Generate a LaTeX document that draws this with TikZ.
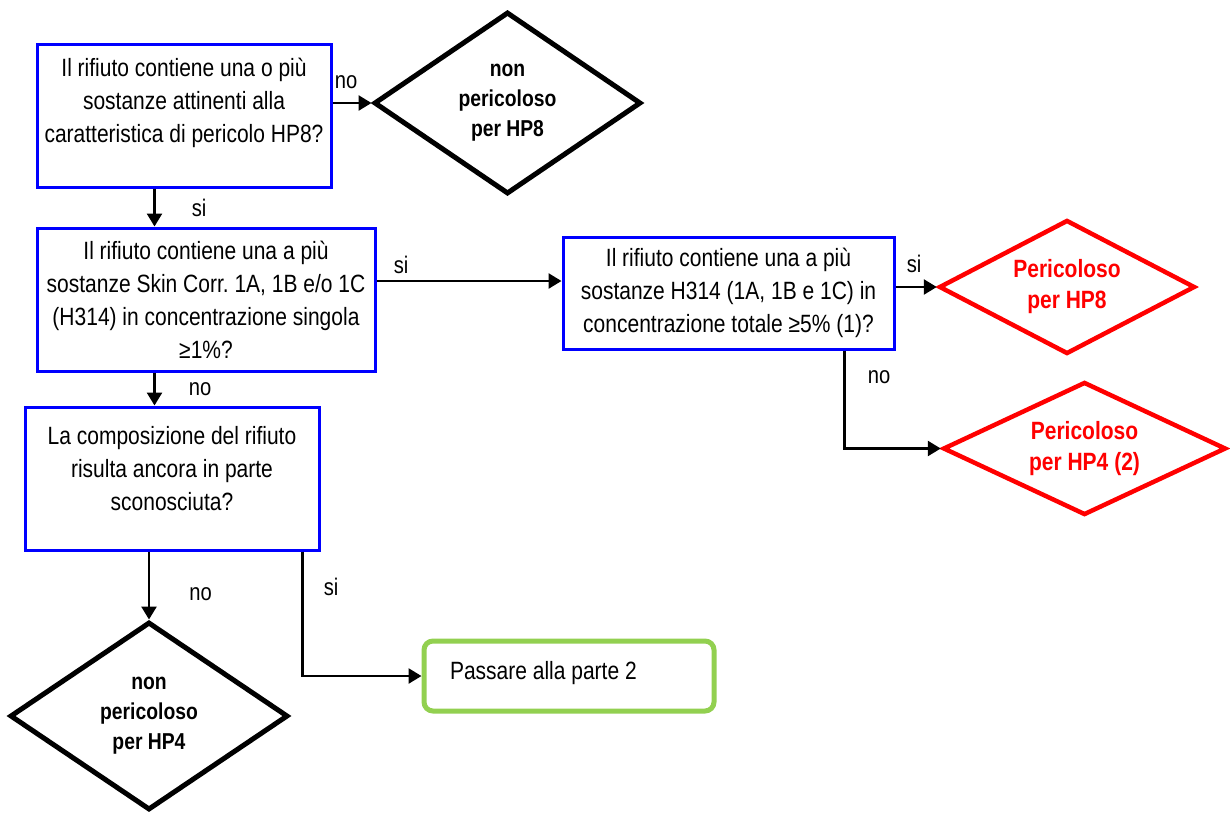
\documentclass[tikz,border=0pt]{standalone}
\usepackage{fontspec}
\setmainfont{Liberation Sans}[FakeStretch=0.84]
\usetikzlibrary{arrows.meta,shapes.geometric,positioning}
\definecolor{okgreen}{HTML}{92D050}
\frenchspacing

\begin{document}
\begin{tikzpicture}[
				x=1pt,y=1pt,
				question/.style={draw=blue,line width=3pt,rectangle,align=center,inner sep=0pt,font=\fontsize{25pt}{33pt}\selectfont},
				safe/.style={draw=black,line width=5pt,diamond,aspect=1.47,align=center,inner sep=0pt,font=\fontsize{23pt}{30pt}\selectfont\bfseries},
				danger/.style={draw=red,line width=4.5pt,diamond,aspect=2,align=center,inner sep=0pt,text=red,font=\fontsize{25pt}{31pt}\selectfont\bfseries},
				next/.style={draw=okgreen,line width=5pt,rectangle,rounded corners=9pt,inner sep=0pt,text height=18pt,text depth=12pt,font=\fontsize{25pt}{33pt}\selectfont},
				flow/.style={-{Triangle[length=13pt,width=15pt]},line width=2.6pt},
				lbl/.style={inner sep=0pt,font=\fontsize{24pt}{28pt}\selectfont}
				]
				
				\useasboundingbox (0,0) rectangle (1230,-814);
				
				\node[question,minimum width=294pt,minimum height=143pt] (hp8q) at (184,-115.5) {Il rifiuto contiene una o più\\sostanze attinenti alla\\caratteristica di pericolo HP8?\\[-3pt]\mbox{}};
				\node[safe,minimum width=267pt,minimum height=182pt] (nohp8) at (507.5,-103) {non\\pericoloso\\per HP8};
				\node[question,minimum width=338pt,minimum height=143pt,below right=38pt and 0pt of hp8q.south west] (singleq) {Il rifiuto contiene una a più\\sostanze Skin Corr. 1A, 1B e/o 1C\\(H314) in concentrazione singola\\≥1\%?};
				\node[question,minimum width=331pt,minimum height=112pt] (totalq) at (728.5,-293) {Il rifiuto contiene una a più\\sostanze H314 (1A, 1B e 1C) in\\concentrazione totale ≥5\% (1)?};
				\node[danger,minimum width=256pt,minimum height=134pt] (hp8yes) at (1067,-287) {Pericoloso\\per HP8};
				\node[danger,aspect=2.1,minimum width=283pt,minimum height=133pt] (hp4yes) at (1084.5,-448.5) {Pericoloso\\per HP4 (2)};
				\node[question,minimum width=294pt,minimum height=143pt] (unknownq) at (172,-478.5) {La composizione del rifiuto\\risulta ancora in parte\\sconosciuta?\\[-12pt]\mbox{}};
				\node[safe,minimum width=278pt,minimum height=188pt] (nohp4) at (149,-716) {non\\pericoloso\\per HP4};
				\node[next,minimum width=290pt,minimum height=70pt] (part2) at (569,-676) {\makebox[238pt][l]{Passare alla parte 2}};
				
				\coordinate (a1) at ([xshift=119pt]hp8q.south west);
				\coordinate (a2) at ([xshift=119pt]singleq.south west);
				
				\draw[flow] (hp8q.east |- nohp8.west) -- (nohp8.west) node[lbl,pos=0.35,above=13pt] {no};
				\draw[flow] (a1) -- (a1 |- singleq.north) node[lbl,midway,right=36pt] {si};
				\draw[flow] ([yshift=12pt]totalq.west -| singleq.east) -- ([yshift=12pt]totalq.west) node[lbl,pos=0,above right=6pt and 16pt] {si};
				\draw[flow] (totalq.east |- hp8yes.west) -- (hp8yes.west) node[lbl,pos=0,above right=13pt and 10pt] {si};
				\draw[flow] ([xshift=-51pt]totalq.south east) |- (hp4yes.west) node[lbl,pos=0,below right=19pt and 22pt] {no};
				\draw[flow] (a2) -- (a2 |- unknownq.north) node[lbl,midway,right=33pt] {no};
				\draw[flow] (unknownq.south -| nohp4.north) -- (nohp4.north) node[lbl,pos=0.63,right=39pt] {no};
				\draw[flow] ([xshift=-18pt]unknownq.south east) |- (part2.west) node[lbl,pos=0,below right=25pt and 20pt] {si};
				
			\end{tikzpicture}
\end{document}
